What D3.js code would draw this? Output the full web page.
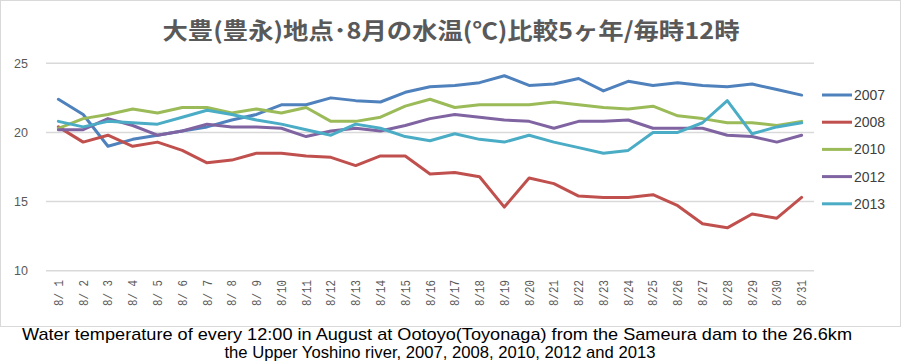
<!DOCTYPE html>
<html><head><meta charset="utf-8">
<script src="https://cdn.jsdelivr.net/npm/d3@7"></script>
<style>body{margin:0;background:#fff}svg{display:block}</style>
</head><body>
<svg id="c" width="901" height="363"></svg>
<script>
const days = ["8/ 1","8/ 2","8/ 3","8/ 4","8/ 5","8/ 6","8/ 7","8/ 8","8/ 9","8/10","8/11","8/12","8/13","8/14","8/15","8/16","8/17","8/18","8/19","8/20","8/21","8/22","8/23","8/24","8/25","8/26","8/27","8/28","8/29","8/30","8/31"];
const years = ["2007","2008","2010","2012","2013"];
const y2007 = [22.4,21.3,19.0,19.5,19.8,20.1,20.4,20.9,21.3,22.0,22.0,22.5,22.3,22.2,22.9,23.3,23.4,23.6,24.1,23.4,23.5,23.9,23.0,23.7,23.4,23.6,23.4,23.3,23.5,23.1,22.7];
const y2008 = [20.4,19.3,19.8,19.0,19.3,18.7,17.8,18.0,18.5,18.5,18.3,18.2,17.6,18.3,18.3,17.0,17.1,16.8,14.6,16.7,16.3,15.4,15.3,15.3,15.5,14.7,13.4,13.1,14.1,13.8,15.3];
const y2010 = [20.3,21.0,21.3,21.7,21.4,21.8,21.8,21.4,21.7,21.4,21.8,20.8,20.8,21.1,21.9,22.4,21.8,22.0,22.0,22.0,22.2,22.0,21.8,21.7,21.9,21.2,21.0,20.7,20.7,20.5,20.8];
const y2012 = [20.2,20.2,21.0,20.5,19.8,20.1,20.6,20.4,20.4,20.3,19.7,20.1,20.3,20.1,20.5,21.0,21.3,21.1,20.9,20.8,20.3,20.8,20.8,20.9,20.3,20.3,20.3,19.8,19.7,19.3,19.8];
const y2013 = [20.8,20.4,20.8,20.7,20.6,21.1,21.6,21.3,20.9,20.6,20.2,19.8,20.6,20.3,19.7,19.4,19.9,19.5,19.3,19.8,19.3,18.9,18.5,18.7,20.0,20.0,20.7,22.3,19.9,20.4,20.7];
const yTicks = [10,15,20,25];
const colors = ["#4F81BD","#C0504D","#9BBB59","#8064A2","#4BACC6"];
const series = [y2007,y2008,y2010,y2012,y2013];
const title = "大豊(豊永)地点･8月の水温(℃)比較5ヶ年/毎時12時";
const caption1 = "Water temperature of every 12:00 in August at Ootoyo(Toyonaga) from the Sameura dam to the 26.6km";
const caption2 = "the Upper Yoshino river, 2007, 2008, 2010, 2012 and 2013";

const svg = d3.select("#c");
svg.append("rect").attr("x",0.5).attr("y",0.5).attr("width",900).attr("height",326)
  .attr("fill","#fff").attr("stroke","#d9d9d9");

const x = d3.scaleBand().domain(days).range([46,814]);
const y = d3.scaleLinear().domain([10,25]).range([270.7,63.3]);

svg.append("g").selectAll("line").data(yTicks).join("line")
  .attr("x1",46).attr("x2",814).attr("y1",d=>y(d)).attr("y2",d=>y(d))
  .attr("stroke","#d9d9d9").attr("stroke-width",1.5);

const yAxis = d3.axisLeft(y).tickValues(yTicks).tickSize(0).tickPadding(0);
const ya = svg.append("g").attr("transform","translate(28,0)").call(yAxis);
ya.select(".domain").remove();
ya.selectAll("text").attr("font-family","Liberation Sans, Arial, sans-serif").attr("font-size",12.5).attr("fill","#595959");

const xAxis = d3.axisBottom(x).tickSize(0).tickPadding(0);
const xa = svg.append("g").attr("transform","translate(0,280)").call(xAxis);
xa.select(".domain").remove();
xa.selectAll("text")
  .attr("font-family","Liberation Mono, DejaVu Sans Mono, monospace").attr("font-size",12)
  .attr("fill","#595959").style("white-space","pre")
  .attr("text-anchor","end").attr("dy",0).attr("y",0)
  .attr("transform","translate(4.5,0) rotate(-90)")
  .attr("textLength",26).attr("lengthAdjust","spacingAndGlyphs");

const line = d3.line().x((d,i)=>x(days[i])+x.bandwidth()/2).y(d=>y(d));
svg.append("g").selectAll("path").data(series).join("path")
  .attr("d",line).attr("fill","none")
  .attr("stroke",(d,i)=>colors[i]).attr("stroke-width",3)
  .attr("stroke-linejoin","round").attr("stroke-linecap","round");

const lg = svg.append("g").selectAll("g").data(years).join("g")
  .attr("transform",(d,i)=>`translate(822,${95+i*27.2})`);
lg.append("line").attr("x1",0).attr("x2",30).attr("stroke",(d,i)=>colors[i]).attr("stroke-width",3);
lg.append("text").attr("x",32).attr("y",5).text(d=>d)
  .attr("font-family","Liberation Sans, Arial, sans-serif").attr("font-size",14).attr("fill","#404040");

svg.append("text").attr("x",451).attr("y",39).attr("text-anchor","middle")
  .attr("font-family","Noto Sans CJK JP, sans-serif").attr("font-size",23).attr("font-weight","bold")
  .attr("fill","#595959").attr("textLength",577).attr("lengthAdjust","spacingAndGlyphs").text(title);

svg.append("text").attr("x",437).attr("y",340).attr("text-anchor","middle")
  .attr("font-family","Liberation Sans, Arial, sans-serif").attr("font-size",17).attr("fill","#000")
  .attr("textLength",830).attr("lengthAdjust","spacingAndGlyphs").text(caption1);
svg.append("text").attr("x",440).attr("y",358).attr("text-anchor","middle")
  .attr("font-family","Liberation Sans, Arial, sans-serif").attr("font-size",17).attr("fill","#000")
  .attr("textLength",431).attr("lengthAdjust","spacingAndGlyphs").text(caption2);
</script>
</body></html>
